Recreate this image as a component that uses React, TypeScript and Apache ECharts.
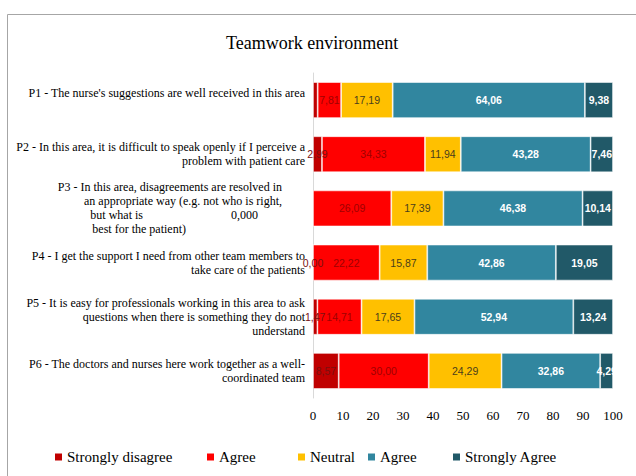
import React, { useEffect, useRef } from "react";
import * as echarts from "echarts";

const titleText = "Teamwork environment";

const categories = [
  "P1 - The nurse's suggestions are well received in this area",
  "P2 - In this area, it is difficult to speak openly if I perceive a\nproblem with patient care",
  "P3 - In this area, disagreements are resolved in\nan appropriate way (e.g. not who is right,\nbut what is|0,000\nbest for the patient)",
  "P4 - I get the support I need from other team members to\ntake care of the patients",
  "P5 - It is easy for professionals working in this area to ask\nquestions when there is something they do not\nunderstand",
  "P6 - The doctors and nurses here work together as a well-\ncoordinated team",
];

const seriesNames = ["Strongly disagree", "Agree", "Neutral", "Agree", "Strongly Agree"];

const stronglyDisagree = [1.56, 2.99, 0.0, 0.0, 1.47, 8.57];
const disagreeVals = [7.81, 34.33, 26.09, 22.22, 14.71, 30.0];
const neutralVals = [17.19, 11.94, 17.39, 15.87, 17.65, 24.29];
const agreeVals = [64.06, 43.28, 46.38, 42.86, 52.94, 32.86];
const stronglyAgree = [9.38, 7.46, 10.14, 19.05, 13.24, 4.29];

const sdLabelShown = [false, true, false, true, true, true];

const xTicks = [0, 10, 20, 30, 40, 50, 60, 70, 80, 90, 100];

const colors = ["#C00000", "#FF0000", "#FFC000", "#31869F", "#215968"];
const labelColors = ["#7A1010", "#A00000", "#4A3E1C", "#FFFFFF", "#FFFFFF"];
const legendLefts = [55, 207, 298, 368, 453];

const SERIF = "Liberation Serif";
const NARROW = "Liberation Sans Narrow, Arial Narrow, Liberation Sans, sans-serif";

const fmt = (v: number) => v.toFixed(2).replace(".", ",");

function formatCategory(value: string, index: number): string {
  const lines = value.split("\n");
  if (index === 2) {
    const [l1, l2, l3, l4] = lines;
    const [a, b] = l3.split("|");
    return [
      `{t|${l1}}{s1| }`,
      `{t|${l2}}{s1| }`,
      `{t|${a}}{g| }{t|${b}}{s3| }`,
      `{t|${l4}}{s4| }`,
    ].join("\n");
  }
  if (index === 0) {
    return `{t|${lines[0]}}\n{t| }`;
  }
  return lines.map((l) => `{t|${l}}`).join("\n");
}

export default function App() {
  const ref = useRef<HTMLDivElement>(null);

  useEffect(() => {
    if (!ref.current) return;
    const chart = echarts.init(ref.current, null, { renderer: "svg" });

    const valueSets = [stronglyDisagree, disagreeVals, neutralVals, agreeVals, stronglyAgree];

    const series = valueSets.map((vals, si) => ({
      name: seriesNames[si],
      type: "bar",
      stack: "total",
      barWidth: 36,
      itemStyle: {
        color: colors[si],
        borderColor: "rgba(255,255,255,0.7)",
        borderWidth: 0.8,
      },
      label: {
        show: true,
        position: "inside",
        color: labelColors[si],
        fontFamily: NARROW,
        fontSize: 10.5,
        fontWeight: si >= 3 ? "bold" : "normal",
        formatter: (p: any) => fmt(p.value),
      },
      data: vals.map((v, i) =>
        si === 0 ? { value: v, label: { show: sdLabelShown[i] } } : { value: v }
      ),
    }));

    const legendGraphics = seriesNames.map((name, i) => ({
      type: "group",
      silent: true,
      children: [
        {
          type: "rect",
          shape: { x: legendLefts[i], y: 453.5, width: 7, height: 7 },
          style: { fill: colors[i] },
        },
        {
          type: "text",
          x: legendLefts[i] + 12,
          y: 457,
          style: {
            text: name,
            fontFamily: SERIF,
            fontSize: 15,
            fill: "#000",
            verticalAlign: "middle",
            align: "left",
          },
        },
      ],
    }));

    chart.setOption({
      animation: false,
      backgroundColor: "#fff",
      textStyle: { fontFamily: SERIF },
      title: {
        text: titleText,
        left: 221,
        top: 29,
        textStyle: { fontFamily: SERIF, fontSize: 18, fontWeight: "normal", color: "#000" },
      },
      grid: { left: 313, right: 23, top: 73, bottom: 78, containLabel: false },
      xAxis: {
        type: "value",
        min: 0,
        max: 100,
        interval: 10,
        axisLine: { show: false },
        axisTick: { show: false },
        splitLine: { show: false },
        axisLabel: {
          margin: 11,
          fontFamily: SERIF,
          fontSize: 13,
          color: "#000",
          formatter: (v: number) => (xTicks.includes(v) ? String(v) : ""),
        },
      },
      yAxis: {
        type: "category",
        inverse: true,
        data: categories,
        axisLine: { show: true, lineStyle: { color: "#D9D9D9", width: 1 } },
        axisTick: { show: false },
        axisLabel: {
          margin: 8,
          interval: 0,
          formatter: formatCategory,
          rich: {
            t: { fontFamily: SERIF, fontSize: 12, color: "#000", lineHeight: 14 },
            s1: { width: 23, lineHeight: 14, fontSize: 12 },
            g: { width: 88, lineHeight: 14, fontSize: 12 },
            s3: { width: 47, lineHeight: 14, fontSize: 12 },
            s4: { width: 119, lineHeight: 14, fontSize: 12 },
          },
        },
      },
      graphic: [
        {
          type: "rect",
          silent: true,
          shape: { x: 7.5, y: 14.5, width: 700, height: 600 },
          style: { fill: "none", stroke: "#A6A6A6", lineWidth: 1 },
          z: -1,
        },
        ...legendGraphics,
      ],
      series,
    });

    return () => chart.dispose();
  }, []);

  return (
    <div
      ref={ref}
      style={{ position: "fixed", left: 0, top: 0, width: 636, height: 476 }}
    />
  );
}
